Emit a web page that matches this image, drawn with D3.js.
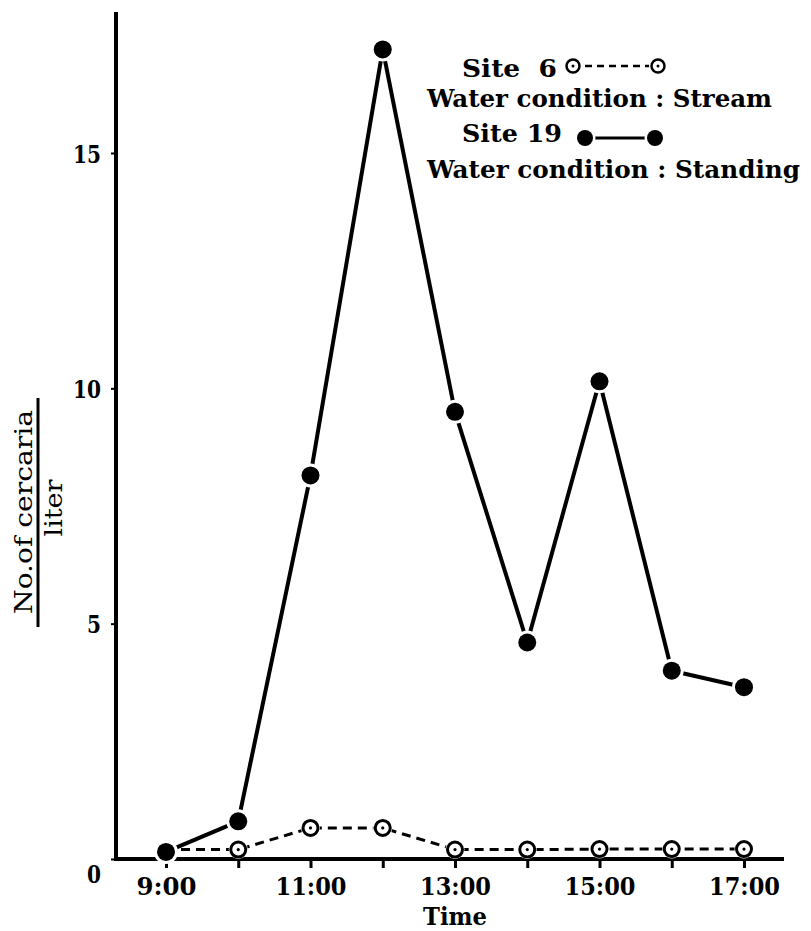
<!DOCTYPE html>
<html><head><meta charset="utf-8">
<script src="https://cdn.jsdelivr.net/npm/d3@7"></script>
<style>body{margin:0;background:#fff}svg{display:block}text{font-family:"DejaVu Serif",serif;font-weight:bold;fill:#000}</style>
</head><body><svg id="c" width="811" height="931"></svg>
<script>
const hours = [9,10,11,12,13,14,15,16,17];
const hourLabels = ["9:00","","11:00","","13:00","","15:00","","17:00"];
const site6 = [0.2,0.2,0.66,0.66,0.2,0.2,0.21,0.21,0.21];
const site19 = [0.15,0.8,8.15,17.2,9.5,4.6,10.15,4.0,3.65];
const yTicks = [0,5,10,15];
const legendLines = ["Site  6","Water condition : Stream","Site 19","Water condition : Standing"];

const FS = 25;
const svg = d3.select("#c");
const x = d3.scaleLinear().domain([9,17]).range([166,744]);
const y = d3.scaleLinear().domain([0,15]).range([859,153]);

// axes
const gx = svg.append("g").attr("transform","translate(0,859)")
  .call(d3.axisBottom(x).tickValues(hours).tickSize(9).tickSizeOuter(0).tickFormat((d,i)=>hourLabels[i]));
gx.select(".domain").remove();
gx.selectAll(".tick line").attr("stroke","#000").attr("stroke-width",3);
gx.selectAll(".tick text").attr("y",36).attr("dy",0).attr("font-size",FS)
  .style("font-family","DejaVu Serif").style("font-weight","bold")
  .each(function(){const t=this.textContent; if(t) d3.select(this).attr("textLength",t.length===4?60:71).attr("lengthAdjust","spacingAndGlyphs");});
svg.append("line").attr("x1",114).attr("x2",784).attr("y1",859).attr("y2",859).attr("stroke","#000").attr("stroke-width",4);

const gy = svg.append("g").attr("transform","translate(116,0)")
  .call(d3.axisLeft(y).tickValues(yTicks).tickSize(5).tickSizeOuter(0).tickFormat(d3.format("d")));
gy.select(".domain").remove();
gy.selectAll(".tick line").attr("stroke","#000").attr("stroke-width",2);
gy.selectAll(".tick text").attr("x",-15).attr("dy","0.36em").attr("font-size",FS)
  .style("font-family","DejaVu Serif").style("font-weight","bold")
  .attr("transform",d=>d===0?"translate(0,14)":null)
  .each(function(d){d3.select(this).attr("textLength",d>=10?28:14).attr("lengthAdjust","spacingAndGlyphs");});
svg.append("line").attr("x1",116).attr("x2",116).attr("y1",12).attr("y2",861).attr("stroke","#000").attr("stroke-width",4);

// axis titles
svg.append("text").attr("x",455).attr("y",925).attr("text-anchor","middle").attr("font-size",FS)
  .attr("textLength",64).attr("lengthAdjust","spacingAndGlyphs").text("Time");
const yl = svg.append("g").attr("transform","translate(0,512) rotate(-90)");
yl.append("text").attr("x",0).attr("y",32).attr("text-anchor","middle").attr("font-size",FS)
  .style("font-weight","normal")
  .attr("textLength",204).attr("lengthAdjust","spacingAndGlyphs").text("No.of cercaria");
yl.append("line").attr("x1",-115).attr("x2",114).attr("y1",38).attr("y2",38).attr("stroke","#000").attr("stroke-width",3);
yl.append("text").attr("x",4).attr("y",62).attr("text-anchor","middle").attr("font-size",FS)
  .style("font-weight","normal")
  .attr("textLength",57).attr("lengthAdjust","spacingAndGlyphs").text("liter");

// series
const pts6 = hours.map((h,i)=>[x(h),y(site6[i])]);
const pts19 = hours.map((h,i)=>[x(h),y(site19[i])]);
const line = d3.line();
svg.append("path").attr("d",line(pts6)).attr("fill","none").attr("stroke","#000").attr("stroke-width",3).attr("stroke-dasharray","9,6");
svg.selectAll(".m6").data(pts6).join("g").attr("class","m6").each(function(p){
  const g=d3.select(this);
  g.append("circle").attr("cx",p[0]).attr("cy",p[1]).attr("r",9.5).attr("fill","#fff");
  g.append("circle").attr("cx",p[0]).attr("cy",p[1]).attr("r",7.5).attr("fill","#fff").attr("stroke","#000").attr("stroke-width",3);
  g.append("circle").attr("cx",p[0]).attr("cy",p[1]).attr("r",1.6).attr("fill","#000");
});
svg.append("path").attr("d",line(pts19)).attr("fill","none").attr("stroke","#000").attr("stroke-width",4).attr("stroke-linejoin","round");
svg.selectAll(".m19").data(pts19).join("circle").attr("class","m19")
  .attr("cx",p=>p[0]).attr("cy",p=>p[1]).attr("r",9).attr("fill","#000").attr("stroke","#fff").attr("stroke-width",6).attr("paint-order","stroke");

// legend
const lx=[462,427,462,427], ly=[77,107,142,178], lw=[95,345,100,373];
legendLines.forEach((t,i)=>svg.append("text").attr("x",lx[i]).attr("y",ly[i]).attr("font-size",FS)
  .attr("textLength",lw[i]).attr("lengthAdjust","spacingAndGlyphs").attr("xml:space","preserve").text(t));
svg.append("line").attr("x1",573).attr("x2",658).attr("y1",66).attr("y2",66).attr("stroke","#000").attr("stroke-width",2.5).attr("stroke-dasharray","7,5");
[573,658].forEach(cx=>{
  svg.append("circle").attr("cx",cx).attr("cy",66).attr("r",9).attr("fill","#fff");
  svg.append("circle").attr("cx",cx).attr("cy",66).attr("r",6.5).attr("fill","#fff").attr("stroke","#000").attr("stroke-width",2.5);
  svg.append("circle").attr("cx",cx).attr("cy",66).attr("r",1.5).attr("fill","#000");
});
svg.append("line").attr("x1",585).attr("x2",655).attr("y1",138).attr("y2",138).attr("stroke","#000").attr("stroke-width",3);
[585,655].forEach(cx=>svg.append("circle").attr("cx",cx).attr("cy",138).attr("r",8).attr("fill","#000").attr("stroke","#fff").attr("stroke-width",5).attr("paint-order","stroke"));
</script></body></html>
